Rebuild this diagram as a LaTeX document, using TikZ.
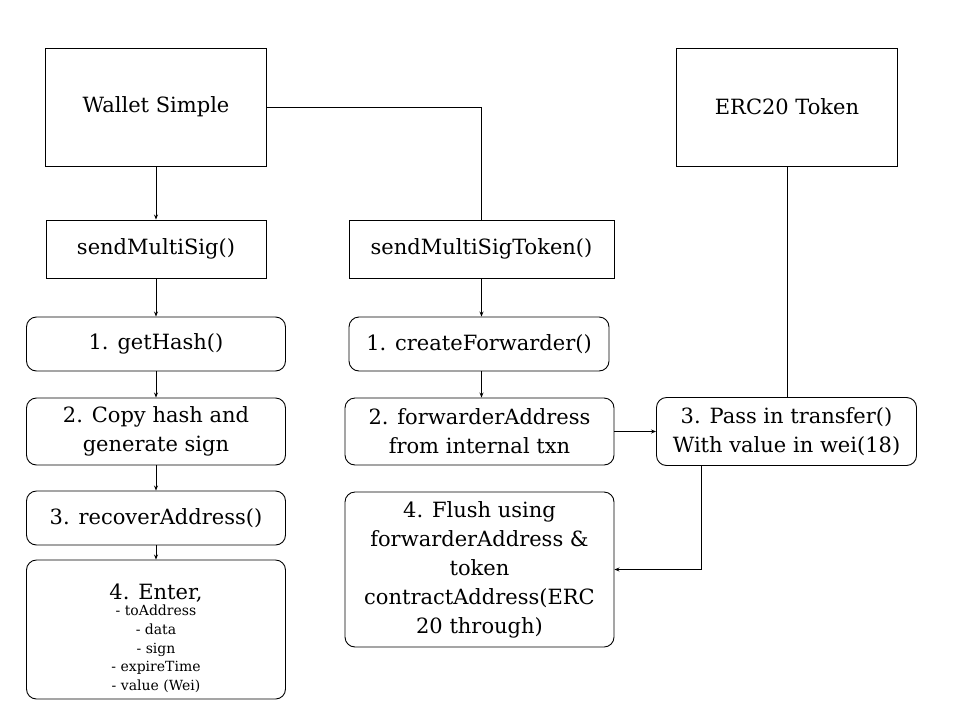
\documentclass[tikz,border=0pt]{standalone}
\usepackage{fontspec}
\setmainfont{DejaVu Serif}
\usetikzlibrary{arrows.meta}
\newcommand{\boxfont}{\fontsize{21}{29}\selectfont}
\newcommand{\listfont}{\fontsize{14}{18.7}\selectfont}

\begin{document}
\begin{tikzpicture}[x=1pt,y=-1pt,line width=0.9pt,
      >={Stealth[length=5pt,width=4pt]},
      sq node/.style={rectangle,draw,inner sep=0pt,align=center,font=\boxfont},
      rd node/.style={sq node,rounded corners=10pt}]
  \useasboundingbox (0,0) rectangle (960,720);

  % top row
  \node[sq node,minimum width=221pt,minimum height=118pt] (wallet) at (156,107) {Wallet Simple};
  \node[sq node,minimum width=221pt,minimum height=118pt] (erc) at (787,107) {ERC20 Token};

  % left column
  \node[sq node,minimum width=220pt,minimum height=58pt] (sms) at (156,249) {sendMultiSig()};
  \node[rd node,minimum width=259pt,minimum height=54pt] (hash) at (156,344) {1. getHash()};
  \node[rd node,minimum width=259pt,minimum height=67pt] (copy) at (156,431.5) {2. Copy hash and\\generate sign};
  \node[rd node,minimum width=259pt,minimum height=54pt] (recover) at (156,518) {3. recoverAddress()};
  \node[rd node,minimum width=259pt,minimum height=139pt,font=\listfont] (enter) at (156,629.5)
       {{\boxfont\rule{0pt}{33pt}4. Enter,}\\[-2pt]- toAddress\\- data\\- sign\\- expireTime\\- value (Wei)};

  % middle column
  \node[sq node,minimum width=265pt,minimum height=58pt] (smst) at (481.5,249) {sendMultiSigToken()};
  \node[rd node,minimum width=260pt,minimum height=54pt] (cfw) at (479,344) {1. createForwarder()};
  \node[rd node,minimum width=269pt,minimum height=67pt] (faddr) at (479.5,431.5) {2. forwarderAddress\\from internal txn};
  \node[rd node,minimum width=269pt,minimum height=155pt] (flush) at (479.5,569.5)
       {4. Flush using\\forwarderAddress \&\\token\\contractAddress(ERC\\20 through)};

  % right column
  \node[rd node,minimum width=260pt,minimum height=68pt] (pass) at (786.5,431.5) {3. Pass in transfer()\\With value in wei(18)};

  %
  \draw[->] (wallet) -- (sms);
  \draw (wallet.east) -| (smst.north);
  \draw[->] (sms) -- (hash);
  \draw[->] (hash) -- (copy);
  \draw[->] (copy) -- (recover);
  \draw[->] (recover) -- (enter);
  %
  \draw[->] (smst.south) -- (smst.south |- cfw.north);
  \draw[->] (smst.south |- cfw.south) -- (smst.south |- faddr.north);
  \draw[->] (faddr) -- (pass);
  \draw (erc.south) -- (erc.south |- pass.north);
  \draw[->] ([xshift=-85pt]pass.south) |- (flush.east);
\end{tikzpicture}
\end{document}
